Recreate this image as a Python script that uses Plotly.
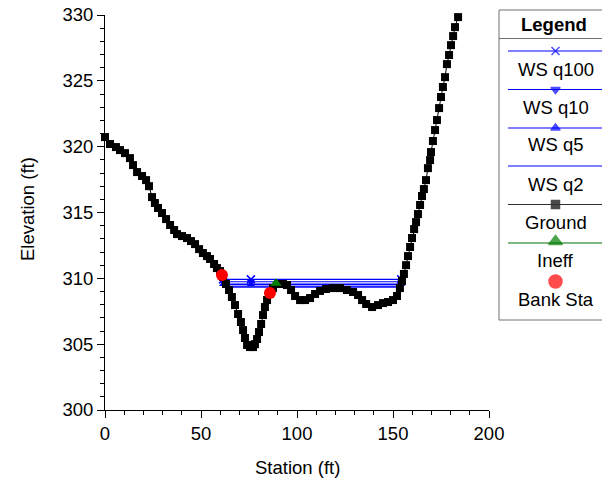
import plotly.graph_objects as go

# page body has an 8px default margin; figure is sized to fit the 610x483 window
OFF = 8
W, H = 610 - OFF, 483 - OFF

# ---------------- data ----------------
ground_station = [0.0, 2.6, 5.7, 7.8, 10.4, 13.0, 14.6, 16.7, 19.3, 21.4, 22.9, 24.5, 26.0, 27.6,
                  29.7, 31.8, 33.9, 36.0, 37.5, 40.1, 42.7, 44.8, 46.9, 49.0, 51.0, 53.1, 54.7,
                  56.8, 58.3, 59.9, 60.9, 61.5, 63.0, 64.6, 66.1, 67.7, 69.3, 70.8, 71.9, 72.9,
                  74.0, 75.5, 77.1, 78.1, 79.2, 80.2, 81.3, 82.3, 83.3, 84.4, 85.9, 87.5, 90.1,
                  92.7, 94.8, 96.9, 99.0, 101.6, 104.2, 106.8, 109.4, 112.0, 115.1, 118.8, 122.4,
                  126.0, 129.2, 131.8, 133.9, 136.0, 139.1, 142.2, 144.8, 147.4, 150.0, 152.1,
                  153.6, 154.7, 155.7, 156.8, 157.8, 158.9, 159.9, 161.0, 162.0, 163.0, 164.1,
                  165.1, 166.1, 167.2, 168.2, 169.3, 169.8, 170.8, 171.9, 172.9, 174.0, 175.0,
                  176.0, 177.1, 178.1, 179.2, 180.2, 181.3, 182.3, 183.9]
ground_elev = [320.73, 320.2, 319.97, 319.74, 319.51, 319.13, 318.6, 318.07, 317.77, 317.46, 317.0,
               316.17, 315.72, 315.34, 314.96, 314.5, 314.05, 313.67, 313.36, 313.21, 313.06,
               312.83, 312.6, 312.22, 311.92, 311.69, 311.47, 311.09, 310.78, 310.55, 310.25,
               310.1, 309.57, 309.11, 308.58, 307.97, 307.29, 306.68, 306.07, 305.47, 304.94,
               304.78, 304.78, 305.0, 305.39, 305.92, 306.53, 307.21, 307.82, 308.35, 308.88,
               309.26, 309.57, 309.57, 309.49, 309.11, 308.66, 308.35, 308.35, 308.5, 308.81,
               309.04, 309.19, 309.26, 309.26, 309.11, 308.96, 308.73, 308.35, 308.05, 307.82,
               307.97, 308.12, 308.2, 308.35, 308.66, 309.26, 309.8, 310.33, 311.0, 311.69,
               312.38, 313.06, 313.74, 314.27, 314.88, 315.57, 316.25, 316.78, 317.46, 318.37,
               318.98, 319.59, 320.43, 321.26, 322.02, 322.93, 323.77, 324.53, 325.28, 326.27,
               326.96, 327.71, 328.4, 329.08, 329.84]

ws_station = [61.5, 76.0, 154.3]
ws_q100 = [309.92, 309.92, 309.92]
ws_q10 = [309.74, 309.74, 309.74]
ws_q5 = [309.55, 309.55, 309.55]
ws_q2 = [309.34, 309.34, 309.34]

ineff_station = [89.0]
ineff_elev = [309.62]

bank_station = [60.9, 85.9]
bank_elev = [310.25, 308.88]

legend_labels = ["WS q100", "WS q10", "WS q5", "WS q2", "Ground", "Ineff", "Bank Sta"]

# ---------------- figure ----------------
FONT = "Arial, Liberation Sans, sans-serif"
FS = 18.5
BLUE = "#0000ff"

fig = go.Figure()

fig.add_trace(go.Scatter(x=ws_station, y=ws_q5, mode="lines+markers",
                         line=dict(color=BLUE, width=1.5),
                         marker=dict(symbol="triangle-up", size=7, color=BLUE),
                         name="WS q5", showlegend=False))
fig.add_trace(go.Scatter(x=ws_station, y=ws_q2, mode="lines",
                         line=dict(color=BLUE, width=1.5), fill="tonexty",
                         fillcolor="rgba(90,90,255,0.6)",
                         name="WS q2", showlegend=False))
fig.add_trace(go.Scatter(x=ws_station, y=ws_q10, mode="lines+markers",
                         line=dict(color=BLUE, width=1.2),
                         marker=dict(symbol="triangle-down", size=7, color=BLUE),
                         name="WS q10", showlegend=False))
fig.add_trace(go.Scatter(x=ws_station, y=ws_q100, mode="lines+markers",
                         line=dict(color=BLUE, width=1.2),
                         marker=dict(symbol="x-thin", size=8, color=BLUE,
                                     line=dict(color=BLUE, width=1.5)),
                         name="WS q100", showlegend=False))
fig.add_trace(go.Scatter(x=ground_station, y=ground_elev, mode="lines+markers",
                         line=dict(color="black", width=1),
                         marker=dict(symbol="square", size=8, color="black"),
                         cliponaxis=False, name="Ground", showlegend=False))
fig.add_trace(go.Scatter(x=ineff_station, y=ineff_elev, mode="markers",
                         marker=dict(symbol="triangle-up", size=10, color="#008000"),
                         name="Ineff", showlegend=False))
fig.add_trace(go.Scatter(x=bank_station, y=bank_elev, mode="markers",
                         marker=dict(symbol="circle", size=12, color="#ff0000"),
                         cliponaxis=False, name="Bank Sta", showlegend=False))

# ---------------- custom legend (pixel overlay, reference window pixels) ----------------
def px(x):
    return (x - OFF) / W

def py(y):
    return 1 - (y - OFF) / H

shapes = []
shapes.append(dict(type="rect", xref="paper", yref="paper",
                   x0=px(499), x1=px(609.5), y0=py(320), y1=py(10),
                   line=dict(color="#707070", width=1), fillcolor="rgba(0,0,0,0)", layer="above"))
shapes.append(dict(type="line", xref="paper", yref="paper",
                   x0=px(499), x1=px(609.5), y0=py(38.5), y1=py(38.5),
                   line=dict(color="#707070", width=1)))

annotations = [dict(text="<b>Legend</b>", x=px(554), y=py(25), xref="paper", yref="paper",
                    xanchor="center", yanchor="middle",
                    showarrow=False, font=dict(family=FONT, size=FS, color="black"))]

line_y = [51, 89.5, 128, 166, 204.5, 243, 281.5]
text_y = [69, 107, 145, 184, 222, 260, 299]
line_col = [BLUE, BLUE, BLUE, BLUE, "#303030", "#007000", None]
for lbl, ly, ty, col in zip(legend_labels, line_y, text_y, line_col):
    if col:
        shapes.append(dict(type="line", xref="paper", yref="paper",
                           x0=px(508), x1=px(603), y0=py(ly), y1=py(ly),
                           line=dict(color=col, width=1)))
    annotations.append(dict(text=lbl, x=px(555.5), y=py(ty), xref="paper", yref="paper",
                            xanchor="center", yanchor="middle",
                            showarrow=False, font=dict(family=FONT, size=FS, color="black")))

leg_sym = ["x-thin", "triangle-down", "triangle-up", "square", "triangle-up", "circle"]
leg_y = [51, 89.5, 128, 204.5, 241.5, 281.5]
leg_col = [BLUE, BLUE, BLUE, "black", "#008000", "#ff0000"]
leg_size = [8, 8, 8, 8, 12, 13]
fig.add_trace(go.Scatter(x=[555.5] * len(leg_y), y=leg_y, mode="markers",
                         xaxis="x2", yaxis="y2", showlegend=False, hoverinfo="skip",
                         marker=dict(symbol=leg_sym, size=leg_size, color=leg_col,
                                     line=dict(color=leg_col, width=1.5))))

# axis titles
annotations.append(dict(text="Station (ft)", x=px(297), y=py(467), xref="paper", yref="paper",
                        xanchor="center", yanchor="middle",
                        showarrow=False, font=dict(family=FONT, size=FS, color="black")))
annotations.append(dict(text="Elevation (ft)", x=px(27), y=py(209), xref="paper", yref="paper",
                        xanchor="center", yanchor="middle",
                        showarrow=False, textangle=-90,
                        font=dict(family=FONT, size=FS, color="black")))

fig.update_layout(
    width=W, height=H,
    margin=dict(l=0, r=0, t=0, b=0),
    paper_bgcolor="white", plot_bgcolor="rgba(0,0,0,0)",
    showlegend=False,
    font=dict(family=FONT, size=FS, color="black"),
    shapes=shapes, annotations=annotations,
    xaxis=dict(domain=[px(105), px(489)], range=[0, 200], dtick=50, tick0=0,
               showgrid=False, zeroline=False, showline=True, linecolor="black", linewidth=1,
               ticks="outside", ticklen=7, tickcolor="black", ticklabeloverflow="allow",
               minor=dict(dtick=10, ticks="outside", ticklen=4, tickcolor="black", showgrid=False),
               tickfont=dict(family=FONT, size=FS), automargin=False, anchor="y"),
    yaxis=dict(domain=[py(410), py(15)], range=[300, 330], dtick=5, tick0=300,
               showgrid=False, zeroline=False, showline=True, linecolor="black", linewidth=1,
               ticks="outside", ticklen=7, tickcolor="black", ticklabeloverflow="allow",
               minor=dict(dtick=1, ticks="outside", ticklen=4, tickcolor="black", showgrid=False),
               tickfont=dict(family=FONT, size=FS), automargin=False, anchor="x"),
    xaxis2=dict(domain=[0, 1], range=[OFF, 610], visible=False, anchor="y2", fixedrange=True),
    yaxis2=dict(domain=[0, 1], range=[483, OFF], visible=False, anchor="x2", fixedrange=True),
)

fig.write_html("out.html")
